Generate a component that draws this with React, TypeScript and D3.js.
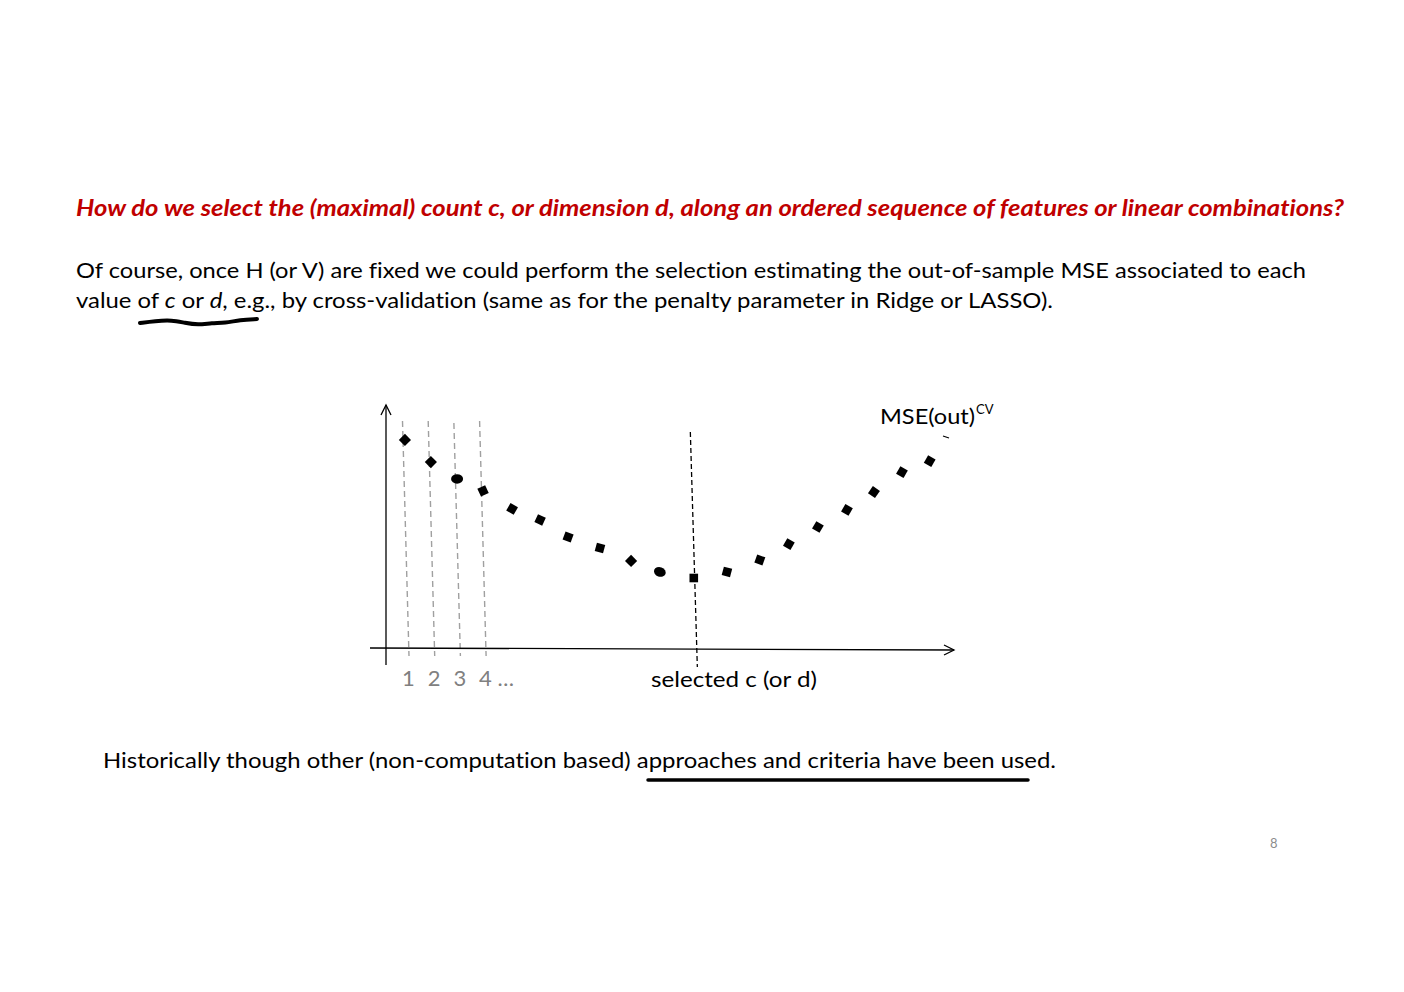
import React from "react";
import * as d3 from "d3";

// Data (c = count/dimension, mse = CV out-of-sample MSE, arbitrary units)
const countValues = [0.88, 1.89, 2.91, 3.92, 5.05, 6.14, 7.23, 8.47, 9.68, 10.8, 12.12, 13.41, 14.69, 15.82, 16.95, 18.08, 19.13, 20.22, 21.3];
const mseValues = [8.57, 7.66, 6.97, 6.48, 5.74, 5.29, 4.59, 4.14, 3.61, 3.16, 2.91, 3.16, 3.65, 4.3, 5.0, 5.7, 6.43, 7.25, 7.7];
const markerShapes = ["s", "s", "e", "s", "s", "s", "s", "s", "s", "e", "s", "s", "s", "s", "s", "s", "s", "s", "s"];
const markerAngles = [45, 45, 0, 65, 30, 25, 20, 15, 45, 20, 0, 15, 20, 30, 30, 30, 35, 30, 30];
const tickCounts = [1, 2, 3, 4];
const tickLabels = ["1", "2", "3", "4 …"];
const selectedCount = 12.2;

const FONT = "Lato, 'Open Sans', sans-serif";

export default function App() {
  const x = d3.scaleLinear().domain([0, 1]).range([382.3, 408]);
  const y = d3.scaleLinear().domain([0, 10]).range([649, 405]);
  const x0 = x(0);
  const yBase = y(0);

  const squiggle = d3.line().curve(d3.curveBasis)([
    [140, 323], [155, 321], [172, 320], [185, 323], [198, 325], [212, 323], [225, 323], [240, 320], [257, 319],
  ] as [number, number][]) as string;

  return (
    <svg width={1404} height={992} style={{ position: "absolute", left: 0, top: 0, background: "#fff", fontVariantLigatures: "none" }} fontFamily={FONT}>
      <rect width={1404} height={992} fill="#fff" />
      {/* Title */}
      <text x={76} y={216} fill="#C00000" fontWeight="bold" fontStyle="italic" fontSize={22} textLength={1268} lengthAdjust="spacingAndGlyphs">
        How do we select the (maximal) count c, or dimension d, along an ordered sequence of features or linear combinations?
      </text>
      {/* Paragraph */}
      <text x={76} y={278} fill="#000" fontSize={22} textLength={1230} lengthAdjust="spacingAndGlyphs">
        Of course, once H (or V) are fixed we could perform the selection estimating the out-of-sample MSE associated to each
      </text>
      <text x={76} y={308} fill="#000" fontSize={22} textLength={977} lengthAdjust="spacingAndGlyphs">
        value of <tspan fontStyle="italic">c</tspan> or <tspan fontStyle="italic">d</tspan>, e.g., by cross-validation (same as for the penalty parameter in Ridge or LASSO).
      </text>
      <path d={squiggle} fill="none" stroke="#000" strokeWidth={4} strokeLinecap="round" />

      {/* grey guide lines for counts 1..4 */}
      {tickCounts.map((c, i) => (
        <line key={"g" + i} x1={x(c) - 5.5} y1={i === 2 ? 423 : 421} x2={x(c) + 1} y2={656}
          stroke="#a0a0a0" strokeWidth={1.4} strokeDasharray="6,4" />
      ))}

      {/* axes */}
      <line x1={x0 + 3.7} y1={665} x2={x0 + 3.7} y2={405} stroke="#000" strokeWidth={1.3} />
      <path d={`M${x0 - 1.3},${415} L${x0 + 3.7},${405} L${x0 + 8.7},${415}`} fill="none" stroke="#000" strokeWidth={1.3} />
      <line x1={370} y1={yBase - 1} x2={954} y2={yBase + 1} stroke="#000" strokeWidth={1.3} />
      <path d={`M${944},${yBase - 4} L${954},${yBase + 1} L${944},${yBase + 6}`} fill="none" stroke="#000" strokeWidth={1.3} />

      {/* selected c line */}
      <line x1={x(selectedCount) - 5.5} y1={432} x2={x(selectedCount) + 1.5} y2={667} stroke="#000" strokeWidth={1.3} strokeDasharray="5,3" />

      {/* markers */}
      {countValues.map((c, i) => {
        const cx = x(c);
        const cy = y(mseValues[i]);
        return (
          <g key={"m" + i} transform={`translate(${cx},${cy}) rotate(${markerAngles[i]})`}>
            {markerShapes[i] === "e" ? (
              <ellipse rx={6} ry={4.8} fill="#000" />
            ) : (
              <rect x={-4.3} y={-4.3} width={8.6} height={8.6} fill="#000" />
            )}
          </g>
        );
      })}

      {/* tick labels */}
      {tickCounts.map((c, i) => (
        <text key={"t" + i} x={x(c) - 6} y={686} fill="#808080" fontSize={22}>{tickLabels[i]}</text>
      ))}
      <text x={651} y={687} fill="#000" fontSize={22} textLength={166} lengthAdjust="spacingAndGlyphs">selected c (or d)</text>

      {/* curve label */}
      <text x={880} y={424} fill="#000" fontSize={22} textLength={95} lengthAdjust="spacingAndGlyphs">MSE(out)</text>
      <text x={976} y={414} fill="#000" fontSize={13}>CV</text>
      <line x1={943} y1={436} x2={949} y2={438} stroke="#000" strokeWidth={1.2} />

      {/* bottom sentence */}
      <text x={103} y={768} fill="#000" fontSize={22} textLength={953} lengthAdjust="spacingAndGlyphs">
        Historically though other (non-computation based) approaches and criteria have been used.
      </text>
      <line x1={648} y1={780} x2={1028} y2={780} stroke="#000" strokeWidth={3.5} strokeLinecap="round" />

      <text x={1270} y={848} fill="#8c8c8c" fontSize={13}>8</text>
    </svg>
  );
}
